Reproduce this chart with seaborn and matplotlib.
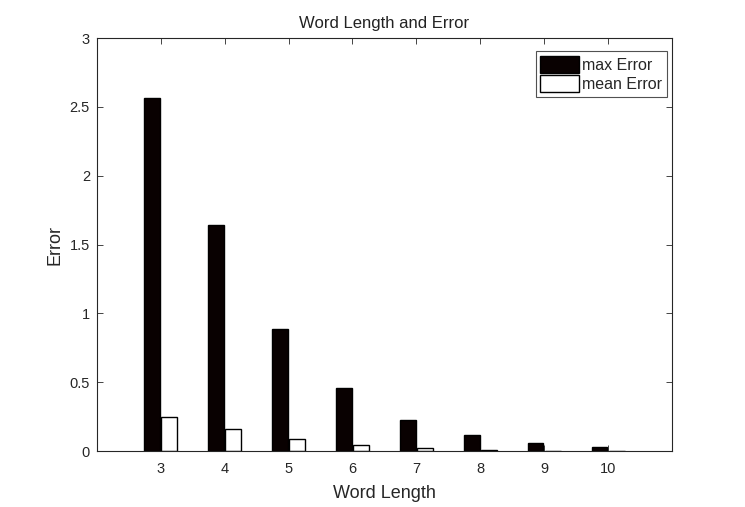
import numpy as np
import pandas as pd
import matplotlib
matplotlib.use("Agg")
import matplotlib.pyplot as plt
import seaborn as sns

word_length = [3, 4, 5, 6, 7, 8, 9, 10]
max_error = [2.565, 1.64, 0.89, 0.462, 0.228, 0.12, 0.06, 0.031]
mean_error = [0.25, 0.16, 0.087, 0.046, 0.024, 0.012, 0.004, 0.002]

sns.set_style("white")
plt.rcParams["font.family"] = ["Liberation Sans", "DejaVu Sans"]

df = pd.DataFrame({"Word Length": word_length,
                   "max Error": max_error,
                   "mean Error": mean_error})
df = pd.melt(df, id_vars="Word Length", var_name="kind", value_name="Error")

fig = plt.figure(figsize=(7.45, 5.07), dpi=100)
ax = fig.add_axes([0.130, 0.110, 0.772, 0.815])

sns.barplot(data=df, x="Word Length", y="Error", hue="kind",
            palette=["#0a0000", "white"], edgecolor="black", linewidth=1,
            width=0.54, gap=0.08, ax=ax)

ax.set_xlim(-1, 8)
ax.set_ylim(0, 3)
ax.set_yticks([0, 0.5, 1, 1.5, 2, 2.5, 3])
ax.set_yticklabels(["0", "0.5", "1", "1.5", "2", "2.5", "3"])
ax.set_title("Word Length and Error", fontsize=12, color="#222222", pad=7)
ax.set_xlabel("Word Length", fontsize=13, color="#262626", labelpad=6)
ax.set_ylabel("Error", fontsize=13, color="#262626", labelpad=4)

for s in ax.spines.values():
    s.set_visible(True)
    s.set_color("#262626")
    s.set_linewidth(0.8)
ax.tick_params(direction="in", length=4, width=0.6, colors="#262626",
               labelsize=10.5, top=True, right=True, bottom=True, left=True)
ax.tick_params(axis="x", pad=8)
ax.tick_params(axis="y", pad=5)

leg = ax.legend(loc="upper right", bbox_to_anchor=(0.991, 0.968),
                frameon=True, fancybox=False, edgecolor="#262626",
                fontsize=11.5, handlelength=2.4, handleheight=1.3,
                handletextpad=0.2, borderpad=0.3, labelspacing=0.1,
                borderaxespad=0, title=None)
leg.get_frame().set_linewidth(0.8)

fig.savefig("out.png", dpi=100)
